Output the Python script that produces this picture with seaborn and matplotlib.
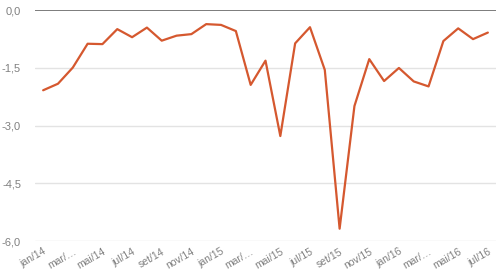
import matplotlib
matplotlib.use("Agg")
import matplotlib.pyplot as plt
import seaborn as sns
import pandas as pd
import numpy as np

months = ["jan/14", "fev/14", "mar/14", "abr/14", "mai/14", "jun/14", "jul/14", "ago/14",
          "set/14", "out/14", "nov/14", "dez/14", "jan/15", "fev/15", "mar/15", "abr/15",
          "mai/15", "jun/15", "jul/15", "ago/15", "set/15", "out/15", "nov/15", "dez/15",
          "jan/16", "fev/16", "mar/16", "abr/16", "mai/16", "jun/16", "jul/16"]
values = [-2.08, -1.91, -1.49, -0.87, -0.88, -0.49, -0.70, -0.45, -0.79, -0.66, -0.62,
          -0.36, -0.38, -0.54, -1.94, -1.31, -3.27, -0.86, -0.44, -1.55, -5.68, -2.49,
          -1.27, -1.84, -1.50, -1.85, -1.98, -0.80, -0.47, -0.75, -0.58]
tick_labels = ["jan/14", "mar/…", "mai/14", "jul/14", "set/14", "nov/14", "jan/15", "mar/…",
               "mai/15", "jul/15", "set/15", "nov/15", "jan/16", "mar/…", "mai/16", "jul/16"]
y_ticks = [0.0, -1.5, -3.0, -4.5, -6.0]

df = pd.DataFrame({"idx": range(len(values)), "month": months, "value": values})

sns.set_theme(style="white")
plt.rcParams['font.family'] = ['Arial', 'Liberation Sans', 'DejaVu Sans']

fig = plt.figure(figsize=(5, 2.75), dpi=100)
ax = fig.add_axes([0.07, 0.1236, 0.922, 0.839])

for yt in y_ticks:
    ax.axhline(yt, color="#666666" if yt == 0 else "#e3e3e3", lw=1.2 if yt == 0 else 1.0, zorder=1)

sns.lineplot(data=df, x="idx", y="value", ax=ax, color="#d5582f", lw=1.6, zorder=3)

ax.set_xlim(-0.55, 30.55)
ax.set_ylim(-6.0, 0.0)
ax.set_yticks(y_ticks)
ax.set_yticklabels([f"{v:.1f}".replace(".", ",") for v in y_ticks], color="#808080", fontsize=8)
ax.set_xticks(list(range(0, 31, 2)))
ax.set_xticklabels(tick_labels, rotation=30, ha="right", rotation_mode="anchor",
                   color="#808080", fontsize=7.5)
ax.tick_params(axis="both", length=0)
ax.tick_params(axis="y", pad=10)
ax.tick_params(axis="x", pad=4)
ax.set_xlabel("")
ax.set_ylabel("")
for s in ax.spines.values():
    s.set_visible(False)
ax.set_clip_on(False)

fig.savefig("out.png", dpi=100)
